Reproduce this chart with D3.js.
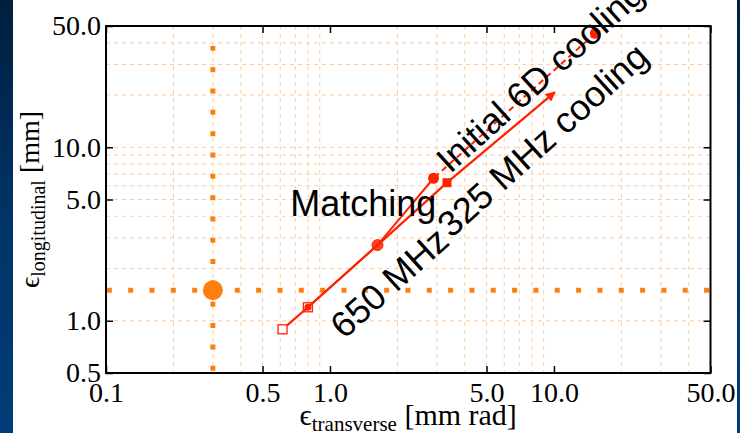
<!DOCTYPE html>
<html><head><meta charset="utf-8">
<script src="https://cdn.jsdelivr.net/npm/d3@7"></script>
<style>body{margin:0;background:#fff;overflow:hidden}svg{display:block}</style>
</head><body>
<svg id="c" width="740" height="433"></svg>
<script>
// ---- data ----
const xTickValues = [0.1, 0.5, 1, 5, 10, 50];
const xTickLabels = ["0.1", "0.5", "1.0", "5.0", "10.0", "50.0"];
const yTickValues = [0.5, 1, 5, 10, 50];
const yTickLabels = ["0.5", "1.0", "5.0", "10.0", "50.0"];
const xGridValues = [0.2,0.3,0.4,0.5,0.6,0.7,0.8,0.9,2,3,4,5,6,7,8,9,20,30,40];
const yGridValues = [1,2,3,4,5,6,7,8,9,10,20,30,40];

const initialX = [15.3, 2.9];
const initialY = [45.4, 6.63];
const cooling325X = [3.33, 10.1];
const cooling325Y = [6.25, 20.8];
const path650aX = [2.9, 1.63, 0.797];
const path650aY = [6.63, 2.73, 1.196];
const path650bX = [3.33, 1.63, 0.797, 0.614];
const path650bY = [6.25, 2.73, 1.196, 0.893];
const targetX = 0.3;
const targetY = 1.5;

const labelTexts = ["Matching", "Initial 6D cooling", "325 MHz cooling", "650 MHz"];
const labelX = [0.664, 3.44, 3.48, 1.157];
const labelY = [4.02, 7.0, 2.96, 0.775];
const labelAngle = [0, -42, -42, -42];

// ---- layout ----
const svg = d3.select("#c");
const L = 106, R = 710.5, T = 26, B = 373;
const x = d3.scaleLog().domain([0.1, 50]).range([L, R]);
const y = d3.scaleLog().domain([0.5, 50]).range([B, T]);
const RED = "#ff2200", ORANGE = "#ff7f0e", GRID = "#ffcc9e";

// slide background strips
const defs = svg.append("defs");
const grad = defs.append("linearGradient").attr("id", "bg").attr("x1", 0).attr("y1", 0).attr("x2", 0).attr("y2", 1);
grad.append("stop").attr("offset", "0%").attr("stop-color", "#001f3e");
grad.append("stop").attr("offset", "50%").attr("stop-color", "#003466");
grad.append("stop").attr("offset", "100%").attr("stop-color", "#003d78");
svg.append("rect").attr("x", 0).attr("y", 0).attr("width", 13).attr("height", 433).attr("fill", "url(#bg)");
svg.append("rect").attr("x", 737).attr("y", 0).attr("width", 3).attr("height", 433).attr("fill", "url(#bg)");

defs.append("clipPath").attr("id", "clip").append("rect")
  .attr("x", L).attr("y", T).attr("width", R - L).attr("height", B - T);

// arrow marker
defs.append("marker").attr("id", "arr").attr("viewBox", "0 0 10 10")
  .attr("refX", 9).attr("refY", 5).attr("markerWidth", 5).attr("markerHeight", 4.5)
  .attr("markerUnits", "strokeWidth").attr("orient", "auto")
  .append("path").attr("d", "M0,0L10,5L0,10Z").attr("fill", RED);

const plot = svg.append("g").attr("clip-path", "url(#clip)");

// grid
plot.selectAll(".gx").data(xGridValues).join("line")
  .attr("x1", d => x(d)).attr("x2", d => x(d)).attr("y1", T).attr("y2", B)
  .attr("stroke", GRID).attr("stroke-width", 1).attr("stroke-dasharray", "4,4");
plot.selectAll(".gy").data(yGridValues).join("line")
  .attr("x1", L).attr("x2", R).attr("y1", d => y(d)).attr("y2", d => y(d))
  .attr("stroke", GRID).attr("stroke-width", 1).attr("stroke-dasharray", "4,4");

// orange dotted target lines
plot.append("line").attr("x1", x(targetX)).attr("x2", x(targetX)).attr("y1", B).attr("y2", 46)
  .attr("stroke", ORANGE).attr("stroke-width", 5).attr("stroke-dasharray", "5,16.33").attr("stroke-dashoffset", 19.1);
plot.append("line").attr("x1", L).attr("x2", R).attr("y1", y(targetY)).attr("y2", y(targetY))
  .attr("stroke", ORANGE).attr("stroke-width", 5).attr("stroke-dasharray", "5,16.33").attr("stroke-dashoffset", 20.5);
plot.append("circle").attr("cx", x(targetX)).attr("cy", y(targetY)).attr("r", 10).attr("fill", ORANGE);

// red lines
const line = d3.line().x(d => x(d[0])).y(d => y(d[1]));
const zipXY = (xs, ys) => xs.map((v, i) => [v, ys[i]]);
plot.append("path").datum(zipXY(initialX, initialY)).attr("d", line)
  .attr("fill", "none").attr("stroke", RED).attr("stroke-width", 2).attr("stroke-dasharray", "6,4");
plot.append("path").datum(zipXY(path650aX, path650aY)).attr("d", line)
  .attr("fill", "none").attr("stroke", RED).attr("stroke-width", 2);
plot.append("path").datum(zipXY(path650bX, path650bY)).attr("d", line)
  .attr("fill", "none").attr("stroke", RED).attr("stroke-width", 2.2);
plot.append("path").datum(zipXY(cooling325X, cooling325Y)).attr("d", line)
  .attr("fill", "none").attr("stroke", RED).attr("stroke-width", 2.2).attr("marker-end", "url(#arr)");

// markers
plot.selectAll(".mi").data(zipXY(initialX, initialY)).join("circle")
  .attr("cx", d => x(d[0])).attr("cy", d => y(d[1])).attr("r", 5.5).attr("fill", RED);
const sq = 9;
plot.append("rect").datum([cooling325X[0], cooling325Y[0]])
  .attr("x", d => x(d[0]) - sq / 2).attr("y", d => y(d[1]) - sq / 2).attr("width", sq).attr("height", sq).attr("fill", RED);
plot.append("circle").datum([path650bX[1], path650bY[1]])
  .attr("cx", d => x(d[0])).attr("cy", d => y(d[1])).attr("r", 5.5).attr("fill", RED).attr("fill-opacity", 0.85)
  .attr("stroke", RED).attr("stroke-width", 1);
plot.append("rect").datum([path650bX[2], path650bY[2]])
  .attr("x", d => x(d[0]) - sq / 2).attr("y", d => y(d[1]) - sq / 2).attr("width", sq).attr("height", sq)
  .attr("fill", "none").attr("stroke", RED).attr("stroke-width", 1.3);
plot.append("circle").datum([path650bX[2], path650bY[2]])
  .attr("cx", d => x(d[0])).attr("cy", d => y(d[1])).attr("r", 3.5).attr("fill", RED);
plot.append("rect").datum([path650bX[3], path650bY[3]])
  .attr("x", d => x(d[0]) - sq / 2).attr("y", d => y(d[1]) - sq / 2).attr("width", sq).attr("height", sq)
  .attr("fill", "#fff").attr("stroke", RED).attr("stroke-width", 1.3);

// border
svg.append("rect").attr("x", L).attr("y", T).attr("width", R - L).attr("height", B - T)
  .attr("fill", "none").attr("stroke", "#000").attr("stroke-width", 2);

// axes
const serif = "'Liberation Serif','Times New Roman','DejaVu Serif',serif";
const gx = svg.append("g").attr("transform", `translate(0,${B})`)
  .call(d3.axisBottom(x).tickValues(xTickValues).tickFormat((d, i) => xTickLabels[i])
    .tickSizeInner(-7).tickSizeOuter(0).tickPadding(9));
const gxt = svg.append("g").attr("transform", `translate(0,${T})`)
  .call(d3.axisTop(x).tickValues(xTickValues).tickFormat("").tickSizeInner(-7).tickSizeOuter(0));
const gy = svg.append("g").attr("transform", `translate(${L},0)`)
  .call(d3.axisLeft(y).tickValues(yTickValues).tickFormat((d, i) => yTickLabels[i])
    .tickSizeInner(-7).tickSizeOuter(0).tickPadding(5));
const gyr = svg.append("g").attr("transform", `translate(${R},0)`)
  .call(d3.axisRight(y).tickValues(yTickValues).tickFormat("").tickSizeInner(-7).tickSizeOuter(0));
[gx, gxt, gy, gyr].forEach(g => {
  g.select(".domain").remove();
  g.selectAll(".tick line").attr("stroke", "#000").attr("stroke-width", 1.5);
  g.selectAll("text").attr("fill", "#000").style("font-family", serif).style("font-size", "28px");
});

// axis titles
const xt = svg.append("text").attr("x", (L + R) / 2).attr("y", 425).attr("text-anchor", "middle")
  .style("font-family", serif).style("font-size", "30px").attr("fill", "#000");
xt.append("tspan").text("ϵ");
xt.append("tspan").attr("dy", 6).style("font-size", "21px").text("transverse");
xt.append("tspan").attr("dy", -6).text(" [mm rad]");

const yt = svg.append("text").attr("transform", `translate(39,${(T + B) / 2}) rotate(-90)`)
  .attr("text-anchor", "middle").style("font-family", serif).style("font-size", "28px").attr("fill", "#000");
yt.append("tspan").text("ϵ");
yt.append("tspan").attr("dy", 6).style("font-size", "20px").text("longitudinal");
yt.append("tspan").attr("dy", -6).text(" [mm]");

// annotations
const sans = "'Liberation Sans',Arial,Helvetica,sans-serif";
svg.selectAll(".ann").data(labelTexts).join("text")
  .attr("transform", (d, i) => `translate(${x(labelX[i])},${y(labelY[i])}) rotate(${labelAngle[i]})`)
  .style("font-family", sans).style("font-size", "36px").attr("fill", "#000")
  .text(d => d);
</script>
</body></html>
